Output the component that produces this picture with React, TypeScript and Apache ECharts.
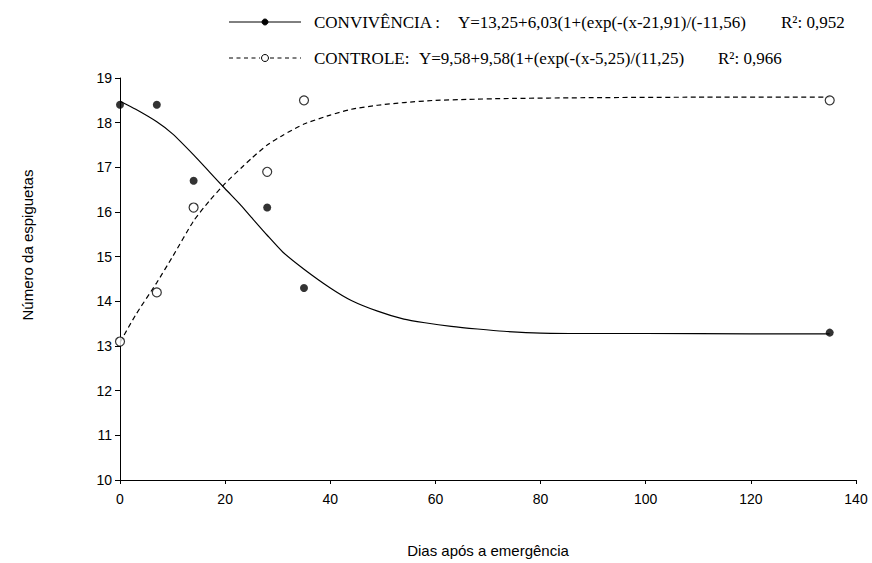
import React, { useEffect, useRef } from "react";
import * as echarts from "echarts";

const daysObs = [0, 7, 14, 28, 35, 135];
const convivenciaObs = [18.4, 18.4, 16.7, 16.1, 14.3, 13.3];
const controleObs = [13.1, 14.2, 16.1, 16.9, 18.5, 18.5];

const convCurveX = [0, 3, 7, 10, 14, 17, 20, 23, 25, 28, 31, 35, 40, 44, 49, 54, 58, 63, 68, 73, 80, 90, 100, 120, 135];
const convCurveY = [18.48, 18.3, 18.02, 17.75, 17.28, 16.9, 16.52, 16.15, 15.88, 15.48, 15.1, 14.72, 14.3, 14.02, 13.78, 13.6, 13.52, 13.44, 13.38, 13.33, 13.29, 13.28, 13.28, 13.27, 13.27];

const ctrlCurveX = [0, 3, 7, 10, 14, 17, 20, 23, 25, 28, 31, 35, 40, 44, 49, 54, 60, 66, 73, 90, 110, 135];
const ctrlCurveY = [13.08, 13.7, 14.42, 15.0, 15.8, 16.25, 16.64, 16.98, 17.2, 17.5, 17.72, 17.97, 18.17, 18.3, 18.39, 18.45, 18.5, 18.52, 18.54, 18.56, 18.57, 18.57];

const xTicks = { min: 0, max: 140, interval: 20 };
const yTicks = { min: 10, max: 19, interval: 1 };

const legendConvName = "CONVIVÊNCIA :";
const legendConvEq = "Y=13,25+6,03(1+(exp(-(x-21,91)/(-11,56)";
const legendConvR2 = "R²: 0,952";
const legendCtrlName = "CONTROLE:";
const legendCtrlEq = "Y=9,58+9,58(1+(exp(-(x-5,25)/(11,25)";
const legendCtrlR2 = "R²: 0,966";
const xTitle = "Dias após a emergência";
const yTitle = "Número da espiguetas";

const zip = (a: number[], b: number[]) => a.map((v, i) => [v, b[i]]);

export default function App() {
  const ref = useRef<HTMLDivElement>(null);
  useEffect(() => {
    document.body.style.margin = "0";
    if (!ref.current) return;
    const chart = echarts.init(ref.current, null, { renderer: "svg" });
    const sans = "Liberation Sans, Arial, sans-serif";
    const serif = "Liberation Serif, Times New Roman, serif";
    const row1 = 22;
    const row2 = 58;
    const legText = (text: string, x: number, y: number) => ({
      type: "text",
      x,
      y,
      style: { text, font: `17px ${serif}`, fill: "#000", verticalAlign: "middle" },
    });
    chart.setOption({
      animation: false,
      backgroundColor: "#ffffff",
      grid: { left: 120, right: 16, top: 78, bottom: 77, containLabel: false },
      xAxis: {
        type: "value",
        min: xTicks.min,
        max: xTicks.max,
        interval: xTicks.interval,
        name: xTitle,
        nameLocation: "middle",
        nameGap: 63,
        nameTextStyle: { fontFamily: sans, fontSize: 15, color: "#000" },
        axisLine: { onZero: false, lineStyle: { color: "#000", width: 1 } },
        axisTick: { show: true, inside: false, length: 4, lineStyle: { color: "#000" } },
        axisLabel: { fontFamily: sans, fontSize: 14, color: "#000", margin: 12 },
        splitLine: { show: false },
      },
      yAxis: {
        type: "value",
        min: yTicks.min,
        max: yTicks.max,
        interval: yTicks.interval,
        axisLine: { show: true, onZero: false, lineStyle: { color: "#000", width: 1 } },
        axisTick: { show: true, inside: false, length: 5, lineStyle: { color: "#000" } },
        axisLabel: { fontFamily: sans, fontSize: 14, color: "#000", margin: 8 },
        splitLine: { show: false },
      },
      graphic: [
        {
          type: "text",
          x: 27,
          y: 245,
          rotation: Math.PI / 2,
          style: {
            text: yTitle,
            font: `15px ${sans}`,
            fill: "#000",
            align: "center",
            verticalAlign: "middle",
          },
        },
        { type: "line", shape: { x1: 229, y1: row1, x2: 301, y2: row1 }, style: { stroke: "#000", lineWidth: 1 } },
        { type: "circle", shape: { cx: 265, cy: row1, r: 3 }, style: { fill: "#000", stroke: "#000" } },
        legText(legendConvName, 314, row1),
        legText(legendConvEq, 458, row1),
        legText(legendConvR2, 781, row1),
        {
          type: "line",
          shape: { x1: 229, y1: row2, x2: 260, y2: row2 },
          style: { stroke: "#000", lineWidth: 1, lineDash: [4, 3.5] },
        },
        {
          type: "line",
          shape: { x1: 270, y1: row2, x2: 301, y2: row2 },
          style: { stroke: "#000", lineWidth: 1, lineDash: [4, 3.5] },
        },
        { type: "circle", shape: { cx: 265, cy: row2, r: 3.5 }, style: { fill: "#fff", stroke: "#000", lineWidth: 1 } },
        legText(legendCtrlName, 314, row2),
        legText(legendCtrlEq, 419, row2),
        legText(legendCtrlR2, 718, row2),
      ],
      series: [
        {
          name: "CONVIVÊNCIA curve",
          type: "line",
          data: zip(convCurveX, convCurveY),
          smooth: 0.2,
          showSymbol: false,
          lineStyle: { color: "#000", width: 1.2 },
          z: 2,
        },
        {
          name: "CONTROLE curve",
          type: "line",
          data: zip(ctrlCurveX, ctrlCurveY),
          smooth: 0.2,
          showSymbol: false,
          lineStyle: { color: "#000", width: 1.2, type: [5, 3.5] },
          z: 2,
        },
        {
          name: "CONVIVÊNCIA",
          type: "scatter",
          data: zip(daysObs, convivenciaObs),
          symbol: "circle",
          symbolSize: 8,
          itemStyle: { color: "#000", borderColor: "#000", borderWidth: 0 },
          z: 3,
        },
        {
          name: "CONTROLE",
          type: "scatter",
          data: zip(daysObs, controleObs),
          symbol: "circle",
          symbolSize: 9,
          itemStyle: { color: "#fff", borderColor: "#000", borderWidth: 1.2 },
          z: 3,
        },
      ],
    });
    return () => chart.dispose();
  }, []);
  return <div ref={ref} style={{ width: 872, height: 563 }} />;
}
